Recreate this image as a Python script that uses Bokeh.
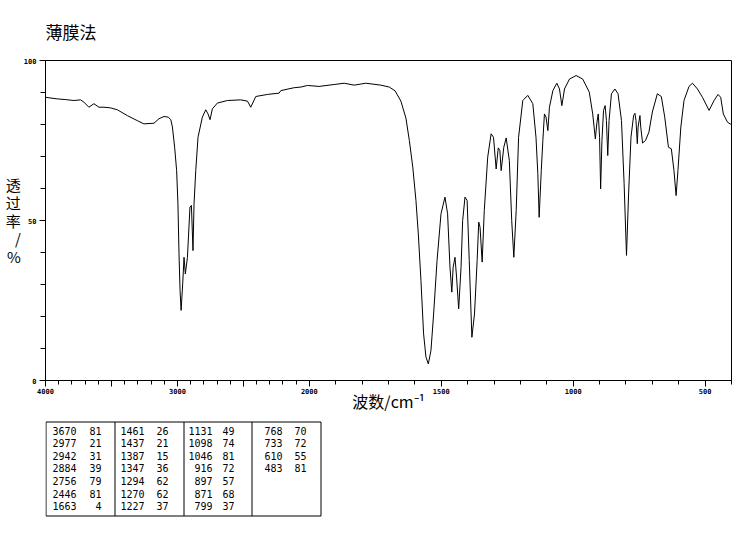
import numpy as np
from bokeh.plotting import figure
from bokeh.models import Range1d, FixedTicker
from bokeh.layouts import column
from bokeh.embed import file_html
from bokeh.resources import INLINE
from bokeh.core.properties import value

# ---------------- data ----------------
wavenumber = [4000, 3911, 3850, 3785, 3734, 3709, 3671, 3633, 3595, 3557, 3507, 3456, 3380, 3304,
              3254, 3178, 3140, 3102, 3070, 3050, 3038, 3021, 3006, 2996, 2988, 2980, 2972, 2960,
              2950, 2940, 2924, 2905, 2894, 2882, 2874, 2861, 2844, 2811, 2785, 2768, 2753, 2735,
              2697, 2621, 2520, 2469, 2444, 2406, 2317, 2229, 2216, 2115, 2064, 2014, 1963, 1906,
              1868, 1830, 1786, 1729, 1697, 1675, 1653, 1634, 1621, 1608, 1596, 1587, 1577, 1567,
              1558, 1549, 1539, 1529, 1516, 1501, 1486, 1476, 1467, 1460, 1455, 1448, 1442, 1434,
              1425, 1419, 1410, 1402, 1394, 1384, 1374, 1364, 1358, 1353, 1345, 1337, 1324, 1311,
              1302, 1292, 1284, 1278, 1273, 1263, 1254, 1242, 1233, 1225, 1216, 1207, 1191, 1172,
              1153, 1141, 1134, 1129, 1121, 1115, 1109, 1103, 1096, 1090, 1077, 1062, 1052, 1043,
              1033, 1014, 989, 964, 939, 926, 916, 910, 905, 900, 896, 891, 885, 879, 874, 869,
              864, 855, 842, 830, 817, 807, 798, 790, 781, 771, 766, 762, 757, 754, 747, 744, 737,
              726, 713, 700, 681, 666, 653, 639, 628, 618, 610, 603, 592, 580, 561, 548, 529, 510,
              485, 466, 451, 441, 431, 415, 405, 400]
transmittance = [88.5, 88.0, 87.8, 87.5, 87.7, 87.0, 85.4, 86.5, 85.4, 85.4, 85.2, 84.6, 82.8, 81.2,
                 80.2, 80.4, 81.8, 82.5, 82.3, 81.5, 79.2, 72.9, 65.6, 55.2, 39.6, 28.1, 21.9, 30.2,
                 38.5, 33.3, 38.5, 54.2, 54.7, 40.6, 55.2, 65.6, 76.0, 82.3, 84.6, 83.3, 81.5, 84.9,
                 86.7, 87.5, 87.7, 87.3, 85.4, 88.75, 89.4, 89.8, 90.6, 91.5, 91.7, 92.2, 91.9, 92.5,
                 92.9, 92.3, 92.9, 92.3, 91.7, 90.5, 87.3, 82.0, 75.0, 66.7, 56.25, 45.8, 31.25, 14.6,
                 7.3, 5.2, 9.4, 20.8, 37.5, 52.1, 57.3, 52.1, 35.4, 27.6, 35.4, 38.5, 32.3, 22.4,
                 35.4, 50.0, 57.3, 56.25, 37.5, 13.5, 20.8, 37.5, 49.5, 47.9, 37.0, 53.1, 69.8, 77.1,
                 76.0, 66.1, 72.7, 71.9, 65.6, 72.9, 75.8, 68.75, 50.0, 38.5, 53.1, 76.0, 87.5, 89.1,
                 86.5, 76.0, 64.6, 51.0, 65.6, 75.0, 83.3, 82.3, 78.1, 85.4, 90.6, 92.9, 91.1, 85.9,
                 91.1, 94.2, 95.3, 94.2, 90.1, 83.3, 75.5, 80.7, 83.3, 76.0, 59.9, 75.0, 84.4, 85.9, 81.25, 70.3,
                 81.25, 89.6, 91.1, 89.6, 81.25, 61.5, 39.1, 58.3, 76.0, 82.8, 83.5, 81.25, 74.0, 79.2, 82.8, 79.2, 74.2,
                 75.0, 77.6, 83.9, 89.6, 88.75, 82.3, 72.9, 72.4, 65.6, 57.8, 65.6, 79.2, 87.5, 91.9, 92.9, 91.1, 88.5,
                 84.4, 87.5, 89.4, 88.5, 83.3, 80.7, 80.2, 80.0]

peak_wn = [3670, 2977, 2942, 2884, 2756, 2446, 1663,
           1461, 1437, 1387, 1347, 1294, 1270, 1227,
           1131, 1098, 1046, 916, 897, 871, 799,
           768, 733, 610, 483]
peak_t = [81, 21, 31, 39, 79, 81, 4,
          26, 21, 15, 36, 62, 62, 37,
          49, 74, 81, 72, 57, 68, 37,
          70, 72, 55, 81]

x_tick_values = [4000, 3500, 3000, 2500, 2000, 1500, 1000, 500]
x_tick_labels = ["4000", "", "3000", "", "2000", "1500", "1000", "500"]
x_minor_values = list(range(4000, 1999, -100)) + list(range(1900, 399, -100))
y_tick_values = [0, 50, 100]
y_tick_labels = ["0", "50", "100"]
y_minor_values = list(range(0, 101, 10))

title_text = "薄膜法"
x_label = "波数/cm⁻¹"
y_label = "透\n过\n率\n/\n%"

# ---------------- helpers ----------------
def wn_to_u(w):
    """IR chart with 2x compressed scale above 2000 cm-1."""
    w = np.asarray(w, dtype=float)
    return np.where(w >= 2000, (4000 - w) / 2.0, 1000 + (2000 - w))

U_MAX = float(wn_to_u(400))

# layout in page pixels
W = 748
FRAME_L, FRAME_R, FRAME_T, FRAME_B = 45, 731, 60, 380
H0 = 45          # title strip
H1 = 420 - H0    # spectrum figure (ends at page y=420)
H2 = 115         # table strip

# ---------------- title strip ----------------
tt = figure(width=W, height=H0, x_range=Range1d(FRAME_L, FRAME_R), y_range=Range1d(H0, 0),
            output_backend="svg", toolbar_location=None,
            x_axis_location=None, y_axis_location=None, min_border=0)
tt.outline_line_color = None
tt.xgrid.visible = False
tt.ygrid.visible = False
tt.text(x=[45], y=[31], text=[title_text], text_align="left", text_baseline="middle",
        text_font=value("Noto Sans CJK SC"), text_font_size=value("17px"), text_color="black")

# ---------------- spectrum ----------------
p = figure(width=W, height=H1, x_range=Range1d(0, U_MAX), y_range=Range1d(0, 100),
           output_backend="svg", toolbar_location=None,
           min_border_left=FRAME_L, min_border_right=W - FRAME_R,
           min_border_top=FRAME_T - H0, min_border_bottom=H0 + H1 - FRAME_B)
p.background_fill_color = "white"
p.border_fill_color = "white"
p.outline_line_color = "black"
p.outline_line_width = 1
p.xgrid.visible = False
p.ygrid.visible = False

p.line(wn_to_u(wavenumber), transmittance, line_color="black", line_width=1)

# x axis
xt = [int(v) for v in wn_to_u(x_tick_values)]
p.xaxis.ticker = FixedTicker(ticks=xt, minor_ticks=[float(v) for v in wn_to_u(x_minor_values)])
p.xaxis.major_label_overrides = {k: lab for k, lab in zip(xt, x_tick_labels)}
p.xaxis.major_tick_out = 6
p.xaxis.major_tick_in = 0
p.xaxis.minor_tick_out = 4
p.xaxis.minor_tick_in = 0
p.xaxis.major_label_standoff = 1
p.xaxis.axis_label = x_label
p.xaxis.axis_label_standoff = -8

# y axis
p.yaxis.ticker = FixedTicker(ticks=y_tick_values, minor_ticks=y_minor_values)
p.yaxis.major_label_overrides = {k: lab for k, lab in zip(y_tick_values, y_tick_labels)}
p.yaxis.major_tick_out = 6
p.yaxis.major_tick_in = 0
p.yaxis.minor_tick_out = 5
p.yaxis.minor_tick_in = 0
p.yaxis.major_label_standoff = 3
p.yaxis.axis_label = y_label
p.yaxis.axis_label_standoff = 0
try:
    p.yaxis.axis_label_orientation = "horizontal"
except (AttributeError, ValueError):
    pass

for ax in (p.xaxis, p.yaxis):
    ax.axis_line_color = "black"
    ax.major_tick_line_color = "black"
    ax.minor_tick_line_color = "black"
    ax.major_label_text_font = "DejaVu Sans Mono"
    ax.major_label_text_font_size = "7px"
    ax.major_label_text_font_style = "bold"
    ax.major_label_text_color = "black"
    ax.axis_label_text_font = "Noto Sans CJK SC"
    ax.axis_label_text_font_size = "15px"
    ax.axis_label_text_font_style = "normal"
    ax.axis_label_text_color = "black"
p.xaxis.axis_label_text_font_size = "16px"
p.yaxis.axis_label_text_line_height = 0.86

# ---------------- peak table ----------------
TOP2 = H0 + H1
t = figure(width=W, height=H2, x_range=Range1d(FRAME_L, FRAME_R), y_range=Range1d(TOP2 + H2, TOP2),
           output_backend="svg", toolbar_location=None,
           x_axis_location=None, y_axis_location=None, min_border=0)
t.outline_line_color = None
t.xgrid.visible = False
t.ygrid.visible = False
t.background_fill_color = "white"
t.border_fill_color = "white"

TB_L, TB_R, TB_T, TB_B = 45.5, 320.5, 421.5, 515.5
col_div = [114.5, 183.5, 251.5]
t.quad(left=[TB_L], right=[TB_R], top=[TB_T], bottom=[TB_B], fill_color=None,
       line_color="black", line_width=1)
t.segment(x0=col_div, x1=col_div, y0=[TB_T] * 3, y1=[TB_B] * 3, line_color="black", line_width=1)

rows_per_col = 7
num_right = [76, 144, 212, 282]
val_right = [101, 168, 234, 306]
row_y0, row_dy = 430.0, 12.6
cols = [i // rows_per_col for i in range(len(peak_wn))]
rows = [i % rows_per_col for i in range(len(peak_wn))]
ty = [row_y0 + r * row_dy for r in rows]
t.text(x=[num_right[c] for c in cols], y=ty, text=[str(v) for v in peak_wn],
       text_align="right", text_baseline="middle", text_font=value("DejaVu Sans Mono"),
       text_font_size=value("10px"), text_color="black")
t.text(x=[val_right[c] for c in cols], y=ty, text=[str(v) for v in peak_t],
       text_align="right", text_baseline="middle", text_font=value("DejaVu Sans Mono"),
       text_font_size=value("10px"), text_color="black")

layout = column(tt, p, t, spacing=0)
open("out.html", "w").write(file_html(layout, INLINE))
